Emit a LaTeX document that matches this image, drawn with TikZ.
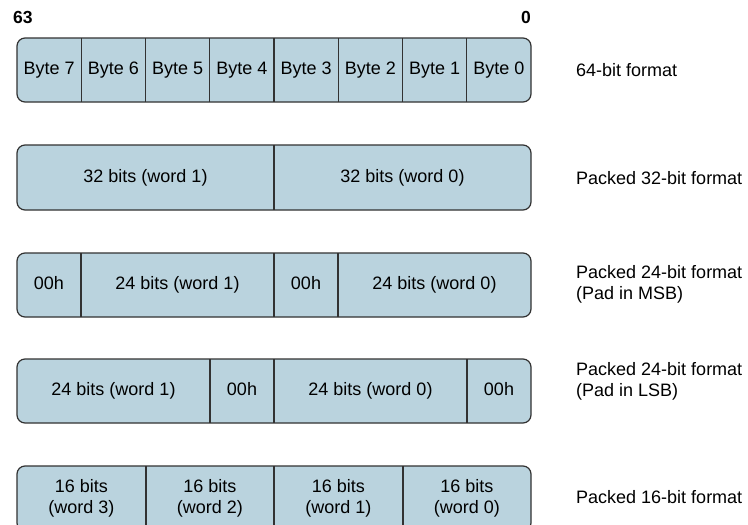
\documentclass[tikz,border=0pt]{standalone}
\usepackage{fontspec}
\setmainfont{Liberation Sans}
\usepackage{xcolor}
\usetikzlibrary{calc,positioning}
\definecolor{cellFill}{RGB}{186,211,222}
\definecolor{cellLine}{RGB}{50,50,50}

\tikzset{
  regbox/.style={draw=cellLine, fill=cellFill, line width=1.2pt, rounded corners=8pt},
  divider/.style={draw=cellLine, line width=1.2pt},
  celltext/.style={font=\fontsize{18}{21}\selectfont, align=center, inner sep=0pt},
  cellline/.style={celltext, text height=13pt, text depth=4pt},
  fmttext/.style={font=\fontsize{18}{21}\selectfont, align=left, anchor=west, inner sep=0pt},
  bitnum/.style={font=\fontsize{17.5}{21}\selectfont\bfseries, inner sep=0pt}
}

\begin{document}
\begin{tikzpicture}[x=1pt,y=-1pt]
          % Page frame (pixels of the reference, y pointing down)
          \clip (0,0) rectangle (748,525);
          \fill[white] (0,0) rectangle (748,525);

          % Register edges and one byte width
          \def\xl{17}
          \def\xr{531}
          \def\bw{64.25}

          % Bit numbers above the top register
          \node[bitnum, anchor=west] (msb) at (13,17) {63};
          \node[bitnum, anchor=east] (lsb) at (\xr,17) {0};

          % Row 1: 64-bit format, eight bytes
          \draw[regbox] (\xl,38) rectangle (\xr,102);
          \foreach \b in {1,...,7} {
            \draw[divider] ({\xl+\bw*\b},38) -- ({\xl+\bw*\b},102);
          }
          \foreach \b in {0,...,7} {
            \node[cellline] (byte\b) at ({\xr-\bw*(\b+0.5)},70) {Byte \b};
          }
          \node[fmttext] (fmtA) at (576,70) {64-bit format};

          % Row 2: packed 32-bit format
          \draw[regbox] (\xl,145) rectangle (\xr,210);
          \draw[divider] (274,145) -- (274,210);
          \node[cellline] (wA1) at (145.5,177.5) {32 bits (word 1)};
          \node[cellline] (wA0) at (402.5,177.5) {32 bits (word 0)};
          \node[fmttext] (fmtB) at (576,178) {Packed 32-bit format};

          % Row 3: packed 24-bit format, pad in MSB
          \draw[regbox] (\xl,253) rectangle (\xr,317);
          \foreach \x in {81,274,338} {
            \draw[divider] (\x,253) -- (\x,317);
          }
          \node[cellline] (padB1) at (49,285) {00h};
          \node[cellline] (wB1) at (177.5,285) {24 bits (word 1)};
          \node[cellline] (padB0) at (306,285) {00h};
          \node[cellline] (wB0) at (434.5,285) {24 bits (word 0)};
          \node[fmttext] (fmtC) at (576,284) {Packed 24-bit format\\(Pad in MSB)};

          % Row 4: packed 24-bit format, pad in LSB
          \draw[regbox] (\xl,359) rectangle (\xr,423);
          \foreach \x in {210,274,467} {
            \draw[divider] (\x,359) -- (\x,423);
          }
          \node[cellline] (wC1) at (113.5,391) {24 bits (word 1)};
          \node[cellline] (padC1) at (242,391) {00h};
          \node[cellline] (wC0) at (370.5,391) {24 bits (word 0)};
          \node[cellline] (padC0) at (499,391) {00h};
          \node[fmttext] (fmtD) at (576,381) {Packed 24-bit format\\(Pad in LSB)};

          % Row 5: packed 16-bit format (cut by the page edge)
          \draw[regbox] (\xl,466) rectangle (\xr,531);
          \foreach \x in {146,274,403} {
            \draw[divider] (\x,466) -- (\x,531);
          }
          \foreach \w/\x in {3/81.5,2/210,1/338.5,0/467} {
            \node[celltext] (wD\w) at (\x,498) {16 bits\\(word \w)};
          }
          \node[fmttext] (fmtE) at (576,497) {Packed 16-bit format};
        \end{tikzpicture}
\end{document}
